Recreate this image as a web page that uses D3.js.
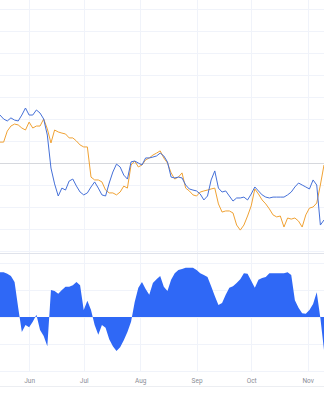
<!DOCTYPE html>
<html>
<head>
<meta charset="utf-8">
<script src="https://cdn.jsdelivr.net/npm/d3@7"></script>
<style>
  html, body { margin: 0; padding: 0; background: #fff; }
  svg { display: block; }
  .tick text { font-family: Roboto, "Noto Sans", sans-serif; }
</style>
</head>
<body>
<svg width="324" height="400"></svg>
<script>
// sampled every 2 days starting 2023-05-16
const startDate = new Date(2023, 4, 16);
const stepDays = 2;

// top panel: relative performance, %
const blueSeries = [
  21.8, 20.0, 19.1, 20.5, 19.5, 19.1, 21.8, 25.0, 21.8, 21.8,
  24.1, 22.7, 20.0, 12.7, -2.3, -9.5, -15.0, -11.4, -12.3, -8.2,
  -7.3, -10.5, -13.2, -14.5, -13.6, -10.9, -8.6, -11.4, -14.5, -15.0,
  -9.1, -4.1, -0.5, -1.8, -5.5, -7.3, 0.5, 0.9, 0.0, -0.9,
  2.3, 2.3, 2.7, 3.2, 4.5, 3.2, 0.5, -6.4, -6.8, -6.4,
  -6.8, -10.0, -11.8, -12.3, -12.7, -14.1, -16.8, -15.0, -7.7, -3.6,
  -11.4, -13.2, -12.7, -15.0, -17.3, -15.9, -15.9, -15.5, -16.8, -14.1,
  -10.9, -12.7, -14.5, -15.5, -15.9, -15.5, -15.5, -15.5, -15.5, -14.5,
  -13.2, -10.9, -9.1, -10.0, -10.9, -11.8, -7.7, -10.0, -28.2, -25.9
];
const orangeSeries = [
  9.5, 9.5, 14.5, 16.8, 17.7, 17.3, 15.9, 15.0, 18.6, 15.9,
  16.8, 16.8, 20.0, 15.5, 9.1, 15.0, 14.1, 13.6, 13.2, 11.4,
  11.4, 10.0, 8.2, 7.3, 7.3, -6.4, -7.7, -7.7, -8.6, -12.3,
  -13.6, -13.6, -14.5, -13.2, -10.5, -11.4, -0.9, 0.9, -1.8, -0.9,
  1.4, 2.3, 3.6, 4.5, 5.5, 2.3, 0.0, -4.5, -7.3, -6.4,
  -4.5, -11.4, -12.7, -14.5, -15.0, -13.2, -12.7, -12.3, -11.8, -11.4,
  -18.6, -22.3, -21.8, -21.8, -22.7, -28.2, -30.5, -28.2, -24.1, -19.5,
  -11.8, -14.1, -16.8, -18.6, -20.9, -23.6, -24.5, -24.1, -29.1, -25.0,
  -25.5, -25.0, -26.4, -29.1, -23.6, -20.5, -20.0, -18.2, -10.0, -0.9
];

// bottom panel: correlation
const corrSeries = [
  0.83, 0.83, 0.80, 0.76, 0.65, 0.17, -0.28, -0.15, -0.19, -0.09,
  0.04, -0.24, -0.35, -0.54, 0.50, 0.48, 0.43, 0.50, 0.56, 0.56,
  0.59, 0.65, 0.59, 0.13, 0.30, 0.13, -0.15, -0.33, -0.15, -0.20,
  -0.41, -0.54, -0.63, -0.56, -0.43, -0.28, -0.09, 0.28, 0.54, 0.65,
  0.52, 0.41, 0.63, 0.70, 0.76, 0.56, 0.48, 0.69, 0.81, 0.87,
  0.89, 0.91, 0.91, 0.91, 0.87, 0.81, 0.78, 0.74, 0.57, 0.39,
  0.22, 0.26, 0.41, 0.54, 0.57, 0.63, 0.70, 0.81, 0.80, 0.67,
  0.54, 0.69, 0.72, 0.74, 0.81, 0.81, 0.81, 0.81, 0.81, 0.83,
  0.78, 0.31, 0.17, 0.07, 0.06, 0.13, 0.24, 0.46, -0.02, -0.61
];

const topTicks = d3.range(-40, 71, 10);
const bottomTicks = [-1, -0.5, 0, 0.5, 1];

const svg = d3.select("svg");
const width = 324;

const dates = blueSeries.map((_, i) => d3.timeDay.offset(startDate, i * stepDays));

const x = d3.scaleTime()
  .domain([startDate, new Date(2023, 10, 10)])
  .range([0, width]);

const yTop = d3.scaleLinear().domain([-40, 70]).range([251, 9]);
const yBot = d3.scaleLinear().domain([-1, 1]).range([371, 263]);

const monthTicks = d3.timeMonth.range(new Date(2023, 5, 1), new Date(2023, 10, 2));

// vertical grid
svg.append("g")
  .selectAll("line")
  .data(monthTicks)
  .join("line")
  .attr("x1", d => Math.round(x(d)) + 0.5)
  .attr("x2", d => Math.round(x(d)) + 0.5)
  .attr("y1", 0)
  .attr("y2", 372)
  .attr("stroke", "#f0f3fa");

// horizontal grid, top panel
svg.append("g")
  .selectAll("line")
  .data(topTicks.filter(d => d !== 0))
  .join("line")
  .attr("x1", 0).attr("x2", width)
  .attr("y1", d => Math.round(yTop(d)) + 0.5)
  .attr("y2", d => Math.round(yTop(d)) + 0.5)
  .attr("stroke", "#f0f3fa");

// horizontal grid, bottom panel
svg.append("g")
  .selectAll("line")
  .data(bottomTicks)
  .join("line")
  .attr("x1", 0).attr("x2", width)
  .attr("y1", d => Math.round(yBot(d)) + 0.5)
  .attr("y2", d => Math.round(yBot(d)) + 0.5)
  .attr("stroke", "#f0f3fa");

// pane separator + axis border
svg.append("line")
  .attr("x1", 0).attr("x2", width)
  .attr("y1", 253.5).attr("y2", 253.5)
  .attr("stroke", "#e0e3eb");
svg.append("line")
  .attr("x1", 0).attr("x2", width)
  .attr("y1", 386.5).attr("y2", 386.5)
  .attr("stroke", "#eceef2");

// zero reference line top panel
svg.append("line")
  .attr("x1", 0).attr("x2", width)
  .attr("y1", Math.round(yTop(0)) + 0.5)
  .attr("y2", Math.round(yTop(0)) + 0.5)
  .attr("stroke", "#d6d8dd");

// area
const area = d3.area()
  .x((d, i) => x(dates[i]))
  .y0(yBot(0))
  .y1(d => yBot(d));

svg.append("path")
  .datum(corrSeries)
  .attr("d", area)
  .attr("fill", "#2f68f6");

// lines
const line = d3.line()
  .x((d, i) => x(dates[i]))
  .y(d => yTop(d));

svg.append("path")
  .datum(orangeSeries)
  .attr("d", line)
  .attr("fill", "none")
  .attr("stroke", "#f0a234")
  .attr("stroke-width", 1);

svg.append("path")
  .datum(blueSeries)
  .attr("d", line)
  .attr("fill", "none")
  .attr("stroke", "#4570d8")
  .attr("stroke-width", 1);

// time axis
const xAxis = d3.axisBottom(x)
  .tickValues(monthTicks)
  .tickFormat(d3.timeFormat("%b"))
  .tickSize(0)
  .tickPadding(0);

const ax = svg.append("g")
  .attr("transform", "translate(0,378)")
  .call(xAxis);
ax.select(".domain").remove();
ax.selectAll("text")
  .attr("fill", "#8a8d96")
  .attr("font-size", 6.5);
</script>
</body>
</html>
